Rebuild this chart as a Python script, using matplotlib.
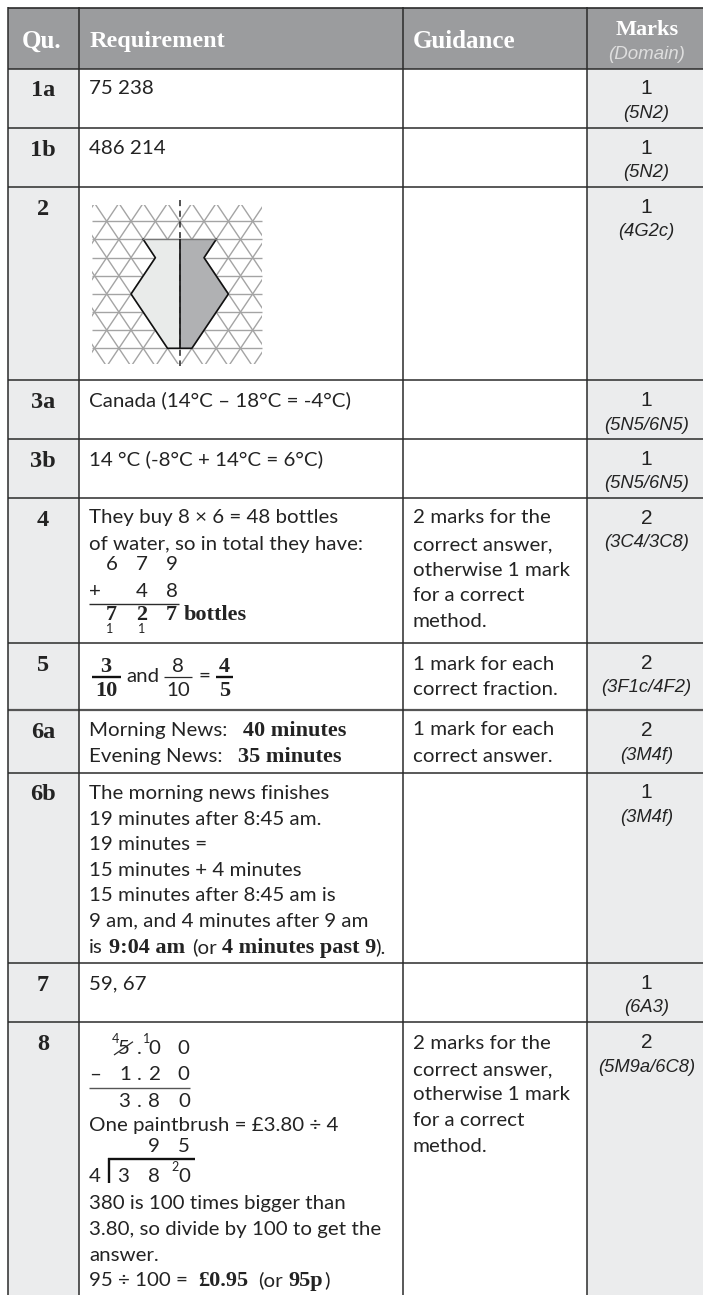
import numpy as np
import matplotlib
matplotlib.use("Agg")
import matplotlib.pyplot as plt
from matplotlib.patches import Rectangle, Polygon

# ---- content ----
header_labels = ["Qu.", "Requirement", "Guidance", "Marks"]
header_sub = "(Domain)"
questions = ["1a", "1b", "2", "3a", "3b", "4", "5", "6a", "6b", "7", "8"]
marks = ["1", "1", "1", "1", "1", "2", "2", "2", "1", "1", "2"]
domains = ["(5N2)", "(5N2)", "(4G2c)", "(5N5/6N5)", "(5N5/6N5)", "(3C4/3C8)",
           "(3F1c/4F2)", "(3M4f)", "(3M4f)", "(6A3)", "(5M9a/6C8)"]
simple_answers = {"1a": "75 238", "1b": "486 214",
                  "3a": "Canada (14°C – 18°C = -4°C)",
                  "3b": "14 °C (-8°C + 14°C = 6°C)", "7": "59, 67"}
guidance_long = ["2 marks for the", "correct answer,", "otherwise 1 mark",
                 "for a correct", "method."]
guidance_fraction = ["1 mark for each", "correct fraction."]
guidance_answer = ["1 mark for each", "correct answer."]
news_6b = ["The morning news finishes", "19 minutes after 8:45 am.", "19 minutes =",
           "15 minutes + 4 minutes", "15 minutes after 8:45 am is",
           "9 am, and 4 minutes after 9 am"]
tail_8 = ["380 is 100 times bigger than", "3.80, so divide by 100 to get the", "answer."]

# ---- layout (pixels) ----
W, H = 703, 1295
row_lines = [68.5, 127.5, 187, 380, 439, 497.5, 643, 710, 772.5, 963, 1022]
col_x = [7.5, 78.5, 402.5, 587]
REG = "Lato"
SER = "Liberation Serif"
ARI = "Liberation Sans"
INK = "#232323"
CELL = "#ebeced"
HEAD = "#9b9c9e"
BODY = 14.75
BOLD = 16.0
SMALL = 9.0

fig = plt.figure(figsize=(W / 100, H / 100), dpi=100)
ax = fig.add_axes([0, 0, 1, 1])
ax.set_xlim(0, W)
ax.set_ylim(H, 0)
ax.axis("off")


def T(x, y, s, bold=False, size=None, ha="left", color=INK, family=None, style="normal"):
    if family is None:
        family = SER if bold else REG
    ax.text(x, y, s, fontsize=size or (BOLD if bold else BODY), ha=ha, va="baseline", color=color,
            family=family, fontweight="bold" if bold else "normal", fontstyle=style)


def L(x0, y0, x1, y1, lw=1.1, color="#2b2b2b", **kw):
    ax.plot([x0, x1], [y0, y1], color=color, lw=lw, solid_capstyle="butt", **kw)


# backgrounds
ax.add_patch(Rectangle((col_x[0], 7.5), W - col_x[0], 61, fc=HEAD, ec="none"))
ax.add_patch(Rectangle((col_x[0], 68.5), col_x[1] - col_x[0], H - 68.5, fc=CELL, ec="none"))
ax.add_patch(Rectangle((col_x[3], 68.5), W - col_x[3], H - 68.5, fc=CELL, ec="none"))

# rules
L(col_x[0], 7.5, W, 7.5, lw=1.2)
for y in row_lines:
    L(col_x[0], y, W, y, lw=1.6 if y == 710 else 1.1, color="#555555" if y == 710 else "#2b2b2b")
for x in col_x:
    L(x, 7, x, H, lw=1.1)

# header
T(42, 47.5, header_labels[0], bold=True, size=18, ha="center", color="white")
T(90, 47.5, header_labels[1], bold=True, size=17.5, color="white")
T(413, 47.5, header_labels[2], bold=True, size=18, color="white")
T(647, 35, header_labels[3], bold=True, size=16, ha="center", color="white")
T(647, 59, header_sub, size=13.5, ha="center", color="#dedede", family=ARI, style="italic")

# question labels, marks
for q, top, m, d in zip(questions, row_lines, marks, domains):
    T(43, top + 28, q, bold=True, size=17.5, ha="center")
    T(646.5, top + 26, m, size=15, ha="center", family=ARI)
    T(646.5, top + 49.5, d, size=13.2, ha="center", family=ARI, style="italic")

# simple answers
for q, top in zip(questions, row_lines):
    if q in simple_answers:
        T(89, top + 26, simple_answers[q])

# question 2 diagram
axis_x, sp, rows = 179.7, 24.33, [221.3, 239.3, 257.7, 275.7, 294, 312, 330, 348.3]
clip = Rectangle((91.7, 205), 170.3, 159.3, transform=ax.transData)
rise = 18.14
for y in rows:
    L(91.7, y, 262, y, lw=1.0, color="#a4a4a4")
for k in np.arange(-14, 15):
    for sgn in (1, -1):
        x0 = axis_x + k * sp
        ln, = ax.plot([x0 - sgn * 200 * (sp / 2) / rise, x0 + sgn * 200 * (sp / 2) / rise],
                      [221.3 - 200, 221.3 + 200], color="#a4a4a4", lw=1.0)
        ln.set_clip_path(clip)
half = sp / 2
left = [(0, 239.3), (-3, 239.3), (-2, 257.7), (-4, 294), (-1, 348.3), (0, 348.3)]
right = [(-a, b) for a, b in left]
px = lambda pts: [(axis_x + a * half, b) for a, b in pts]
ax.add_patch(Polygon(px(left), closed=True, fc="#e9ebea", ec="none", zorder=3))
ax.add_patch(Polygon(px(right), closed=True, fc="#b0b1b3", ec="none", zorder=3))
outline = px(left[1:5] + [(1, 348.3), (4, 294), (2, 257.7), (3, 239.3)])
ax.plot(*zip(*outline), color="#111111", lw=1.2, zorder=4)
ax.plot(*zip(*px([(-3, 239.3), (3, 239.3)])), color="#777777", lw=1.0, zorder=4)
L(axis_x, 239.3, axis_x, 348.3, lw=1.2, color="#111111", zorder=4)
ax.plot([axis_x, axis_x], [200, 366], color="#222222", lw=1.1, ls=(0, (4, 3)), zorder=5)

# question 4
T(89, 523, "They buy 8 × 6 = 48 bottles")
T(89, 550, "of water, so in total they have:")
for x, s in zip([112, 142, 172], "679"):
    T(x, 570, s, ha="center")
T(95, 597, "+", ha="center")
for x, s in zip([142, 172], "48"):
    T(x, 597, s, ha="center")
L(89, 603.5, 179, 603.5, lw=1.0)
for x, s in zip([111, 142, 171], "727"):
    T(x, 620.5, s, bold=True, ha="center")
T(184, 620.5, "bottles", bold=True)
for x in (110, 142):
    T(x, 633, "1", size=SMALL, ha="center")
for i, s in enumerate(guidance_long):
    T(413, [523, 550, 575.7, 601, 626.7][i], s)

# question 5
T(106, 672, "3", bold=True, ha="center")
L(92, 676.7, 121, 676.7, lw=1.7, color="#111111")
T(106.5, 696, "10", bold=True, ha="center")
T(126, 681.7, "and")
T(178, 672, "8", ha="center")
L(164.3, 676.7, 192, 676.7, lw=0.9)
T(178, 696, "10", ha="center")
T(204, 681.7, "=", ha="center")
T(224.5, 672, "4", bold=True, ha="center")
L(216, 676.7, 233, 676.7, lw=1.7, color="#111111")
T(224.5, 696, "5", bold=True, ha="center")
T(413, 670, guidance_fraction[0])
T(413, 695, guidance_fraction[1])

# question 6a
T(89, 736, "Morning News:")
T(243, 736, "40 minutes", bold=True)
T(89, 761.7, "Evening News:")
T(238, 761.7, "35 minutes", bold=True)
T(413, 735, guidance_answer[0])
T(413, 761.7, guidance_answer[1])

# question 6b
for y, s in zip([798.7, 825, 850, 876, 901, 926.7], news_6b):
    T(89, y, s)
T(89, 953.3, "is")
T(109, 953.3, "9:04 am", bold=True)
T(192, 953.3, "(or")
T(222, 953.3, "4 minutes past 9", bold=True)
T(375, 953.3, ").")

# question 8
for x, s in zip([124.3, 139, 154, 183], ["5", ".", "0", "0"]):
    T(x, 1054, s, ha="center")
T(115.7, 1043, "4", size=SMALL, ha="center")
T(146.7, 1043, "1", size=SMALL, ha="center")
L(114, 1055, 133, 1041.7, lw=0.9)
for x, s in zip([95, 125, 139, 154, 183], ["–", "1", ".", "2", "0"]):
    T(x, 1080, s, ha="center")
L(89, 1088, 190, 1088, lw=1.0, color="#555555")
for x, s in zip([124, 139, 154, 184], ["3", ".", "8", "0"]):
    T(x, 1106.7, s, ha="center")
T(89, 1131, "One paintbrush = £3.80 ÷ 4")
T(154, 1151.7, "9", ha="center")
T(183.7, 1151.7, "5", ha="center")
L(108, 1158.7, 195, 1158.7, lw=1.7, color="#111111")
L(109, 1158, 109, 1183, lw=1.7, color="#111111")
T(94.7, 1182, "4", ha="center")
for x, s in zip([123, 154, 184], "380"):
    T(x, 1182, s, ha="center")
T(175, 1170.7, "2", size=SMALL, ha="center")
for y, s in zip([1209, 1235, 1261], tail_8):
    T(89, y, s)
T(89, 1286, "95 ÷ 100 =")
T(198, 1286, "£0.95", bold=True)
T(258, 1286, "(or")
T(288, 1286, "95p", bold=True)
T(324, 1286, ")")
for y, s in zip([1049, 1075, 1100, 1126, 1151.7], guidance_long):
    T(413, y, s)

fig.savefig("out.png", dpi=100)
